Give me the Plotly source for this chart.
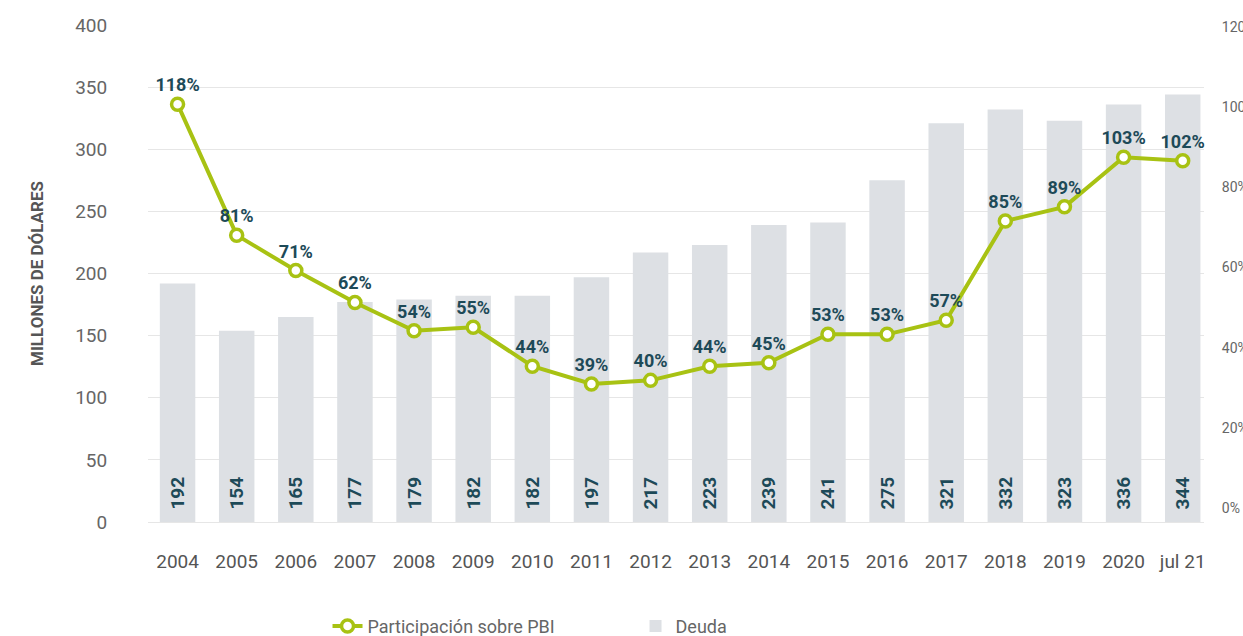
import plotly.graph_objects as go

categories = ["2004", "2005", "2006", "2007", "2008", "2009", "2010", "2011", "2012",
              "2013", "2014", "2015", "2016", "2017", "2018", "2019", "2020", "jul 21"]
deuda = [192, 154, 165, 177, 179, 182, 182, 197, 217, 223, 239, 241, 275, 321, 332, 323, 336, 344]
participacion = [118, 81, 71, 62, 54, 55, 44, 39, 40, 44, 45, 53, 53, 57, 85, 89, 103, 102]
left_ticks = [0, 50, 100, 150, 200, 250, 300, 350, 400]
right_ticks = [0, 20, 40, 60, 80, 100, 120]

FONT = "Roboto, Arial, sans-serif"
GREEN = "#a8c213"
DARK = "#1d4a58"
BAR = "#dde0e4"
GRAY = "#666666"

fig = go.Figure()

fig.add_trace(go.Bar(
    x=categories, y=deuda, name="Deuda",
    marker=dict(color=BAR, line=dict(width=0)),
    width=0.6,
    text=["\u00a0\u00a0" + str(v) for v in deuda],
    textposition="inside", insidetextanchor="start", textangle=-90,
    textfont=dict(family=FONT, size=19, color=DARK, weight="bold"),
    constraintext="none",
    yaxis="y", hoverinfo="x+y",
))

fig.add_trace(go.Scatter(
    x=categories, y=participacion, name="Participación sobre PBI",
    mode="lines+markers+text",
    line=dict(color=GREEN, width=4),
    marker=dict(symbol="circle", size=12, color="white", line=dict(color=GREEN, width=3.5)),
    text=[f"{v}%" for v in participacion],
    textposition="top center",
    textfont=dict(family=FONT, size=18, color=DARK, weight="bold"),
    yaxis="y2", cliponaxis=False,
))

# decorative right axis carrying the percentage labels
fig.add_trace(go.Scatter(
    x=categories, y=[None] * len(categories), mode="lines",
    showlegend=False, hoverinfo="skip", yaxis="y3",
))

fig.update_layout(
    width=1243, height=636,
    margin=dict(l=148, r=39, t=25, b=114, autoexpand=False),
    paper_bgcolor="white", plot_bgcolor="white",
    font=dict(family=FONT, color=GRAY),
    xaxis=dict(
        type="category", range=[-0.5, 17.36], automargin=False,
        showgrid=False, zeroline=False, showline=False,
        ticks="outside", ticklen=22, tickcolor="rgba(0,0,0,0)",
        tickfont=dict(family=FONT, size=19, color="#555555"),
    ),
    yaxis=dict(
        range=[0, 400], tickvals=left_ticks, automargin=False,
        showgrid=True, gridcolor="#e6e6e6", gridwidth=1,
        zeroline=True, zerolinecolor="#e6e6e6", zerolinewidth=1,
        showline=False,
        ticks="outside", ticklen=36, tickcolor="rgba(0,0,0,0)",
        tickfont=dict(family=FONT, size=19, color=GRAY),
        title=dict(text="MILLONES DE DÓLARES",
                   font=dict(family=FONT, size=17, color="#555555", weight="bold"),
                   standoff=27),
    ),
    yaxis2=dict(
        range=[0, 400 / 2.85], overlaying="y", side="right", automargin=False,
        showgrid=False, zeroline=False, showline=False, showticklabels=False,
    ),
    yaxis3=dict(
        range=[-3.49, 120.5], overlaying="y", side="right", automargin=False,
        tickvals=right_ticks, ticktext=[f"{v}%" for v in right_ticks],
        showgrid=False, zeroline=False, showline=False,
        ticks="outside", ticklen=14, tickcolor="rgba(0,0,0,0)",
        tickfont=dict(family=FONT, size=14, color=GRAY),
    ),
    showlegend=True,
    legend=dict(
        orientation="h", x=0.17, xanchor="left", y=-0.21, yanchor="middle",
        traceorder="reversed",
        font=dict(family=FONT, size=18, color=GRAY),
        itemwidth=30, entrywidth=263, entrywidthmode="pixels",
    ),
)

fig.write_html("out.html", config={"displayModeBar": False},
               post_script="document.body.style.margin='0';")
